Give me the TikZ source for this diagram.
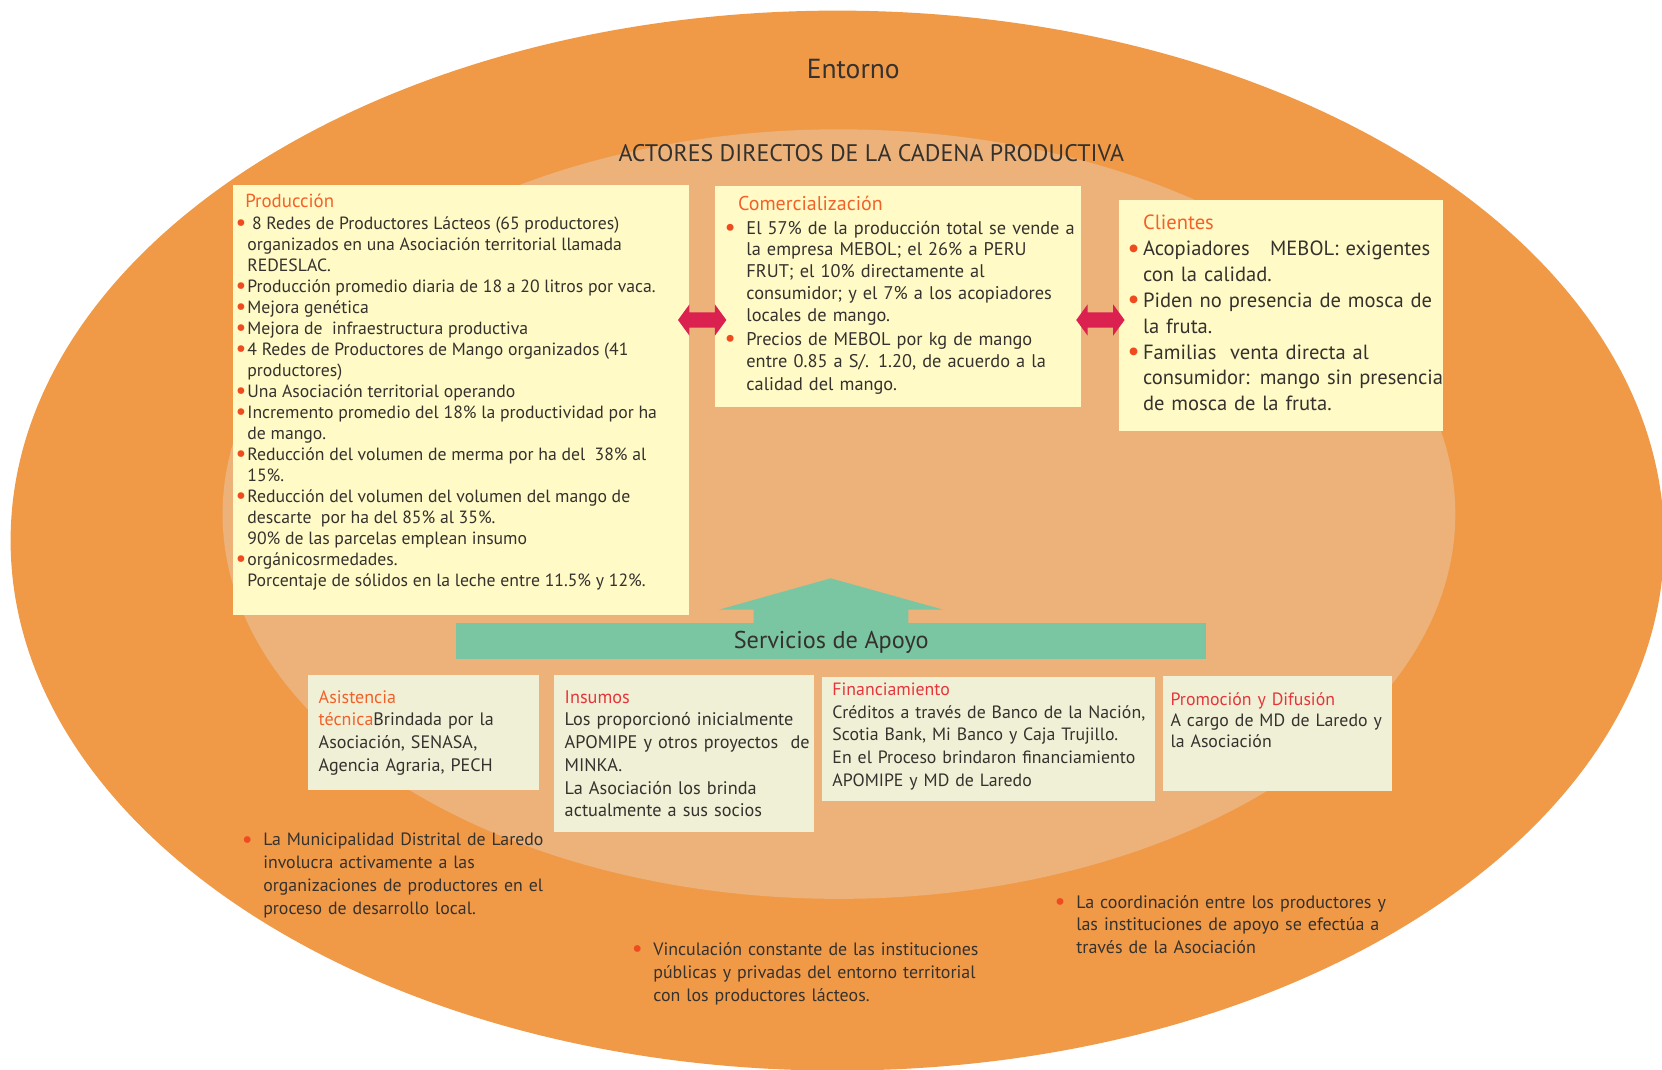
\documentclass[tikz,border=0pt]{standalone}
\usepackage{fontspec}
\setmainfont{PT Sans}
\usetikzlibrary{calc}
\definecolor{outerc}{HTML}{F09A48}
\definecolor{innerc}{HTML}{ECB27A}
\definecolor{yelc}{HTML}{FFFAC6}
\definecolor{paleb}{HTML}{F0F0D6}
\definecolor{greenc}{HTML}{7AC5A2}
\definecolor{redarr}{HTML}{DB2150}
\definecolor{headc}{HTML}{F2612A}
\definecolor{headr}{HTML}{E5353B}
\definecolor{bulc}{HTML}{EE4B1F}
\definecolor{tc}{HTML}{35312D}
\newcommand{\bdot}{\textcolor{bulc}{\raisebox{-0.07em}{\scalebox{1.35}{\textbullet}}}}
\newcommand{\bu}{\leavevmode\llap{\bdot\hspace{0.4pt}}}
\newcommand{\bug}[1]{\leavevmode\llap{\bdot\hspace{#1}}}
\tikzset{
  ybox/.style={fill=yelc, inner sep=0pt, anchor=north west},
  pbox/.style={fill=paleb, inner sep=0pt, anchor=north west},
  tb/.style={anchor=base west, inner sep=0pt, align=left, text width=#1, text=tc},
  tl/.style={anchor=base west, inner sep=0pt, text=tc},
  hd/.style={anchor=base west, inner sep=0pt, text=headc},
  hdr/.style={anchor=base west, inner sep=0pt, text=headr},
  dblarrow/.pic={
    \fill[redarr] (-22.8,0) -- (-12,-14.8) -- (-12,-7.25) -- (12,-7.25) -- (12,-14.8)
      -- (22.8,0) -- (12,14.8) -- (12,7.25) -- (-12,7.25) -- (-12,14.8) -- cycle;
  },
}
\begin{document}
\begin{tikzpicture}[x=0.5pt,y=-0.5pt]
\useasboundingbox (0,0) rectangle (1568,1009);
\fill[white] (0,0) rectangle (1568,1009);
\begin{scope}
\clip (0,0) rectangle (1568,1009);
\fill[outerc] (790,510) ellipse [x radius=780, y radius=500];
\fill[innerc] (791.5,485) ellipse [x radius=581.5, y radius=363];
\end{scope}

% titles
\node[anchor=base, inner sep=0pt, text=tc, font=\fontsize{13}{15}\selectfont] (entorno) at (805,74) {Entorno};
\node[anchor=base, inner sep=0pt, text=tc, font=\fontsize{11.3}{13}\selectfont] (actores) at (822,152) {ACTORES DIRECTOS DE LA CADENA PRODUCTIVA};

% top boxes
\node[ybox, minimum width=215pt, minimum height=202.5pt] (prod) at (219.5,174.5) {};
\node[ybox, minimum width=172.6pt, minimum height=104.1pt] (com) at (674.6,175.5) {};
\node[ybox, minimum width=152.6pt, minimum height=108.8pt] (cli) at (1055.7,188.7) {};

% Produccion
\node[hd, font=\fontsize{8.9}{9.9}\selectfont] (prodh) at (231,195.6) {Producción};
\node[tl, font=\fontsize{8.35}{9.915}\selectfont] (prodt) at (233,216.4) {%
\begin{tabular}[t]{@{}l@{}}
\bu\hspace{2.2pt}8 Redes de Productores Lácteos (65 productores)\\
organizados en una Asociación territorial llamada\\
REDESLAC.\\
\bu Producción promedio diaria de 18 a 20 litros por vaca.\\
\bu Mejora genética\\
\bu Mejora de\ \ infraestructura productiva\\
\bu 4 Redes de Productores de Mango organizados (41\\
productores)\\
\bu Una Asociación territorial operando\\
\bu Incremento promedio del 18\% la productividad por ha\\
de mango.\\
\bu Reducción del volumen de merma por ha del\ \ 38\% al\\
15\%.\\
\bu Reducción del volumen del volumen del mango de\\
descarte\ \ por ha del 85\% al 35\%.\\
90\% de las parcelas emplean insumo\\
\bu orgánicosrmedades.\\
Porcentaje de sólidos en la leche entre 11.5\% y 12\%.
\end{tabular}};

% Comercializacion
\node[hd, font=\fontsize{9.4}{10.3}\selectfont] (comh) at (696,198.8) {Comercialización};
\node[tb=180pt, font=\fontsize{8.65}{10.27}\selectfont] (comt1) at (703.8,220.8) {\bug{5pt}El 57\% de la producción total se vende a\\
la empresa MEBOL; el 26\% a PERU\\
FRUT; el 10\% directamente al\\
consumidor; y el 7\% a los acopiadores\\
locales de mango.};
\node[tb=180pt, font=\fontsize{8.65}{10.5}\selectfont] (comt2) at (703.8,326) {\bug{5pt}Precios de MEBOL por kg de mango\\
entre 0.85 a S/. 1.20, de acuerdo a la\\
calidad del mango.};

% Clientes
\node[hd, font=\fontsize{9.7}{12.2}\selectfont] (clih) at (1078,216.4) {Clientes};
\node[tb=160pt, font=\fontsize{9.7}{12.2}\selectfont] (clit) at (1078,241.2) {\bug{1.5pt}Acopiadores\ \ \ MEBOL: exigentes\\
con la calidad.\\
\bug{1.5pt}Piden no presencia de mosca de\\
la fruta.\\
\bug{1.5pt}Familias\ \ venta directa al\\
consumidor: mango sin presencia\\
de mosca de la fruta.};

% red double arrows between boxes
\coordinate (yrow) at (0,301.9);
\coordinate (m1) at ($(prod.east)!0.5!(com.west)$);
\coordinate (m2) at ($(com.east)!0.5!(cli.west)$);
\pic (a1) at (m1 |- yrow) {dblarrow};
\pic (a2) at (m2 |- yrow) {dblarrow};

% green arrow and bar
\fill[greenc] (678.3,575.2) -- (783.7,545.6) -- (890,575.2) -- (857,575.2) -- (857,590) -- (711,590) -- (711,575.2) -- cycle;
\node[fill=greenc, inner sep=0pt, anchor=north west, minimum width=353.5pt, minimum height=16.95pt] (serv) at (430,587.8) {};
\node[anchor=base, inner sep=0pt, text=tc, font=\fontsize{11.45}{13}\selectfont] (servt) at (784.2,611.6) {Servicios de Apoyo};

% bottom boxes
\node[pbox, minimum width=109.3pt, minimum height=54.55pt] (asis) at (289.9,636.2) {};
\node[pbox, minimum width=123pt, minimum height=74.2pt] (ins) at (522,636.2) {};
\node[pbox, minimum width=157pt, minimum height=58.5pt] (fin) at (775,638) {};
\node[pbox, minimum width=108pt, minimum height=54.5pt] (prom) at (1097,637) {};

\node[tb=115pt, font=\fontsize{8.5}{10.7}\selectfont] (asist) at (300.3,663.5) {\textcolor{headc}{Asistencia}\\
\textcolor{headc}{técnica}Brindada por la\\
Asociación, SENASA,\\
Agencia Agraria, PECH};
\node[tb=125pt, font=\fontsize{8.6}{10.7}\selectfont] (inst) at (532.4,663.5) {\textcolor{headr}{Insumos}\\
Los proporcionó inicialmente\\
APOMIPE y otros proyectos\ \ de\\
MINKA.\\
La Asociación los brinda\\
actualmente a sus socios};
\node[tb=165pt, font=\fontsize{8.4}{10.7}\selectfont] (fint) at (785,656) {\textcolor{headr}{Financiamiento}\\
Créditos a través de Banco de la Nación,\\
Scotia Bank, Mi Banco y Caja Trujillo.\\
En el Proceso brindaron financiamiento\\
APOMIPE y MD de Laredo};
\node[tb=115pt, font=\fontsize{8.4}{9.8}\selectfont] (promt) at (1104,666) {\textcolor{headr}{Promoción y Difusión}\\
A cargo de MD de Laredo y\\
la Asociación};

% bottom notes
\node[tb=160pt, font=\fontsize{8.4}{10.85}\selectfont] (n1) at (248,798) {\bug{5pt}La Municipalidad Distrital de Laredo\\
involucra activamente a las\\
organizaciones de productores en el\\
proceso de desarrollo local.};
\node[tb=180pt, font=\fontsize{8.45}{10.85}\selectfont] (n2) at (616,901) {\bug{5pt}Vinculación constante de las instituciones\\
públicas y privadas del entorno territorial\\
con los productores lácteos.};
\node[tb=180pt, font=\fontsize{8.5}{10.6}\selectfont] (n3) at (1015,857) {\bug{5pt}La coordinación entre los productores y\\
las instituciones de apoyo se efectúa a\\
través de la Asociación};
\end{tikzpicture}
\end{document}
